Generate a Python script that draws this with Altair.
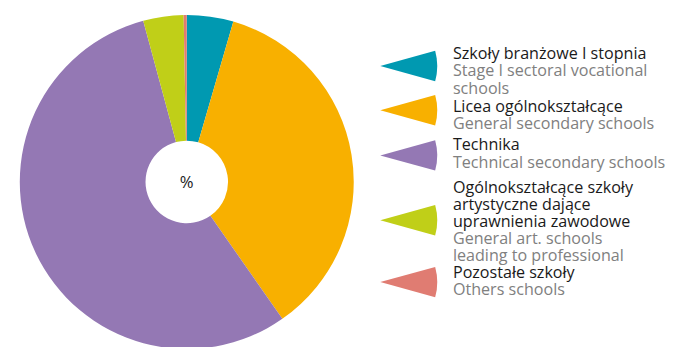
import math
import altair as alt
import pandas as pd

# ---- data ----
categories = ["Szkoły branżowe I stopnia", "Licea ogólnokształcące", "Technika",
              "Ogólnokształcące szkoły artystyczne dające uprawnienia zawodowe", "Pozostałe szkoły"]
shares = [4.5, 35.8, 55.5, 3.9, 0.3]
colors = ["#0099b1", "#f8b000", "#9478b4", "#c0cf18", "#e07c72"]
pl_lines = [["Szkoły branżowe I stopnia"],
            ["Licea ogólnokształcące"],
            ["Technika"],
            ["Ogólnokształcące szkoły", "artystyczne dające", "uprawnienia zawodowe"],
            ["Pozostałe szkoły"]]
en_lines = [["Stage I sectoral vocational", "schools"],
            ["General secondary schools"],
            ["Technical secondary schools"],
            ["General art. schools", "leading to professional"],
            ["Others schools"]]

# ---- layout ----
W, H = 675, 339
MX, MY = 4, 8
cx, cy, R, r_in = 186 - MX, 182 - MY, 170, 42
group_baseline = [57, 111, 150, 193, 280]
wedge_tip_y = [64, 109, 155, 221, 284]
line_h = 17.5
text_x = 457 - MX
tip_x = 383 - MX
wedge_r = 58
half = 0.27

pie_df = pd.DataFrame({"cat": categories, "share": shares, "order": range(5)})
wedge_df = pd.DataFrame({"cat": categories, "x": [tip_x] * 5, "y": [t - MY for t in wedge_tip_y]})

rows = []
for i in range(5):
    k = 0
    for ln in pl_lines[i]:
        rows.append({"t": ln, "x": text_x, "y": group_baseline[i] - MY + k * line_h, "lang": "pl"})
        k += 1
    for ln in en_lines[i]:
        rows.append({"t": ln, "x": text_x, "y": group_baseline[i] - MY + k * line_h, "lang": "en"})
        k += 1
text_df = pd.DataFrame(rows)

xs = alt.Scale(domain=[0, W], range=[0, W])
ys = alt.Scale(domain=[0, H], range=[0, H])
cscale = alt.Scale(domain=categories, range=colors)

pie = alt.Chart(pie_df).mark_arc(outerRadius=R, innerRadius=r_in).encode(
    theta=alt.Theta("share:Q", stack=True),
    order=alt.Order("order:Q"),
    color=alt.Color("cat:N", scale=cscale, legend=None),
    x=alt.value(cx), y=alt.value(cy),
)

pct = alt.Chart(pd.DataFrame({"t": ["%"]})).mark_text(
    font="Open Sans", fontSize=17, color="#222222", baseline="middle", align="center"
).encode(text="t:N", x=alt.value(cx), y=alt.value(cy + 1))

wedges = alt.Chart(wedge_df).mark_arc(
    radius=wedge_r, theta=math.pi / 2 - half, theta2=math.pi / 2 + half
).encode(
    x=alt.X("x:Q", scale=xs, axis=None),
    y=alt.Y("y:Q", scale=ys, axis=None),
    color=alt.Color("cat:N", scale=cscale, legend=None),
)

texts = alt.Chart(text_df).mark_text(
    font="Open Sans", fontSize=16.4, align="left", baseline="alphabetic"
).encode(
    x=alt.X("x:Q", scale=xs, axis=None),
    y=alt.Y("y:Q", scale=ys, axis=None),
    text="t:N",
    color=alt.Color("lang:N", scale=alt.Scale(domain=["pl", "en"], range=["#1a1a1a", "#808080"]), legend=None),
)

chart = alt.layer(pie, pct, wedges, texts).resolve_scale(color="independent").properties(
    width=W, height=H, autosize=alt.AutoSizeParams(type="none"), padding=0
).configure_view(stroke=None)

chart.save("out.html", embed_options={"renderer": "svg", "actions": False})
